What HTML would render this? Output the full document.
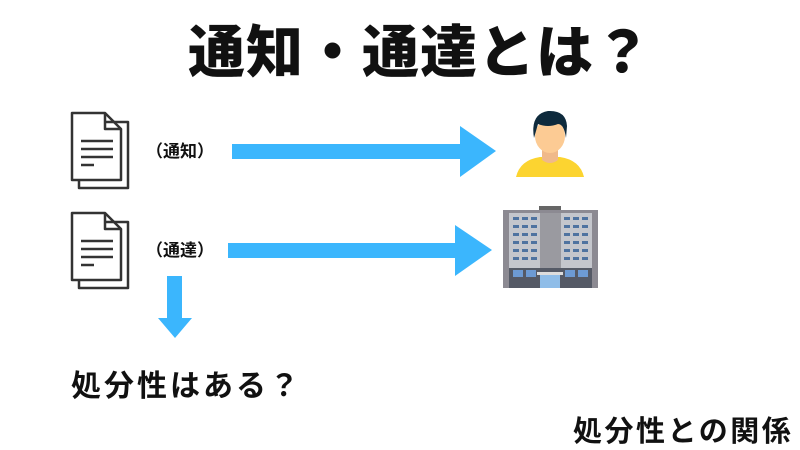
<!DOCTYPE html>
<html><head><meta charset="utf-8"><style>
body{margin:0;width:800px;height:450px;background:#fff;position:relative;overflow:hidden;font-family:"Liberation Sans","Noto Sans CJK JP",sans-serif;font-weight:bold;color:#111}
.t{position:absolute;white-space:nowrap;line-height:1}
</style></head><body>
<div class="t" style="left:188px;top:25px;font-size:57px;font-weight:900;letter-spacing:1px">通知・通達とは？</div>
<div class="t" style="left:146px;top:143px;font-size:17px">（通知）</div>
<div class="t" style="left:146px;top:242px;font-size:17px">（通達）</div>
<div class="t" style="left:71px;top:372px;font-size:30px;letter-spacing:3px">処分性はある？</div>
<div class="t" style="left:573px;top:418px;font-size:29px;letter-spacing:2.5px">処分性との関係</div>
<svg width="800" height="450" style="position:absolute;left:0;top:0">
<g fill="#3bb6fd">
<polygon points="232,144 460,144 460,126 496,151 460,177 460,159 232,159"/>
<polygon points="228,243 455,243 455,225 492,250 455,276 455,258 228,258"/>
<polygon points="167,276 182,276 182,318 192,318 175,338 158,318 167,318"/>
</g>
<g fill="none" stroke="#333" stroke-width="2.5" stroke-linejoin="round">
<g>
<path d="M105,122 L128,122 L128,188 L79,188 L79,180"/>
<path d="M72,113 L105,113 L121,129 L121,180 L72,180 Z"/>
<path d="M105,113 L105,129 L121,129"/>
<path d="M81,141 L113,141 M81,149 L113,149 M81,157 L113,157 M81,165 L94,165"/>
</g>
<g transform="translate(0,100)">
<path d="M105,122 L128,122 L128,188 L79,188 L79,180"/>
<path d="M72,113 L105,113 L121,129 L121,180 L72,180 Z"/>
<path d="M105,113 L105,129 L121,129"/>
<path d="M81,141 L113,141 M81,149 L113,149 M81,157 L113,157 M81,165 L94,165"/>
</g>
</g>
<path d="M516,177 Q520,160 540,157 L560,157 Q580,160 584,177 Z" fill="#fcd430"/>
<path d="M542,148 L558,148 L558,160 Q550,166 542,160 Z" fill="#f0b98a"/>
<ellipse cx="550" cy="136" rx="15" ry="17" fill="#fccb94"/>
<path d="M534,138 Q530,114 548,111 Q566,110 567,126 L566,138 Q564,124 558,124 Q548,128 538,124 Z" fill="#0e2a3c"/>
<rect x="539" y="206" width="22" height="8" fill="#666"/>
<rect x="503" y="210" width="95" height="78" fill="#8c8a92"/>
<rect x="509" y="213" width="31" height="55" fill="#c4c6cc"/>
<rect x="561" y="213" width="31" height="55" fill="#c4c6cc"/>
<rect x="540" y="213" width="21" height="55" fill="#9a9aa0"/>
<g fill="#4f73a0">
<rect x="513" y="217" width="6" height="3"/><rect x="522" y="217" width="6" height="3"/><rect x="531" y="217" width="6" height="3"/>
<rect x="513" y="225" width="6" height="3"/><rect x="522" y="225" width="6" height="3"/><rect x="531" y="225" width="6" height="3"/>
<rect x="513" y="233" width="6" height="3"/><rect x="522" y="233" width="6" height="3"/><rect x="531" y="233" width="6" height="3"/>
<rect x="513" y="241" width="6" height="3"/><rect x="522" y="241" width="6" height="3"/><rect x="531" y="241" width="6" height="3"/>
<rect x="513" y="249" width="6" height="3"/><rect x="522" y="249" width="6" height="3"/><rect x="531" y="249" width="6" height="3"/>
<rect x="513" y="257" width="6" height="3"/><rect x="522" y="257" width="6" height="3"/><rect x="531" y="257" width="6" height="3"/>
<rect x="564" y="217" width="6" height="3"/><rect x="573" y="217" width="6" height="3"/><rect x="582" y="217" width="6" height="3"/>
<rect x="564" y="225" width="6" height="3"/><rect x="573" y="225" width="6" height="3"/><rect x="582" y="225" width="6" height="3"/>
<rect x="564" y="233" width="6" height="3"/><rect x="573" y="233" width="6" height="3"/><rect x="582" y="233" width="6" height="3"/>
<rect x="564" y="241" width="6" height="3"/><rect x="573" y="241" width="6" height="3"/><rect x="582" y="241" width="6" height="3"/>
<rect x="564" y="249" width="6" height="3"/><rect x="573" y="249" width="6" height="3"/><rect x="582" y="249" width="6" height="3"/>
<rect x="564" y="257" width="6" height="3"/><rect x="573" y="257" width="6" height="3"/><rect x="582" y="257" width="6" height="3"/>
</g>
<rect x="509" y="268" width="83" height="20" fill="#555a66"/>
<rect x="513" y="270" width="10" height="7" fill="#6d9bd4"/><rect x="526" y="270" width="10" height="7" fill="#6d9bd4"/>
<rect x="565" y="270" width="10" height="7" fill="#6d9bd4"/><rect x="578" y="270" width="10" height="7" fill="#6d9bd4"/>
<rect x="537" y="272" width="26" height="3" fill="#ddd"/>
<rect x="540" y="275" width="20" height="13" fill="#8fbde8"/>
</svg>
</body></html>
